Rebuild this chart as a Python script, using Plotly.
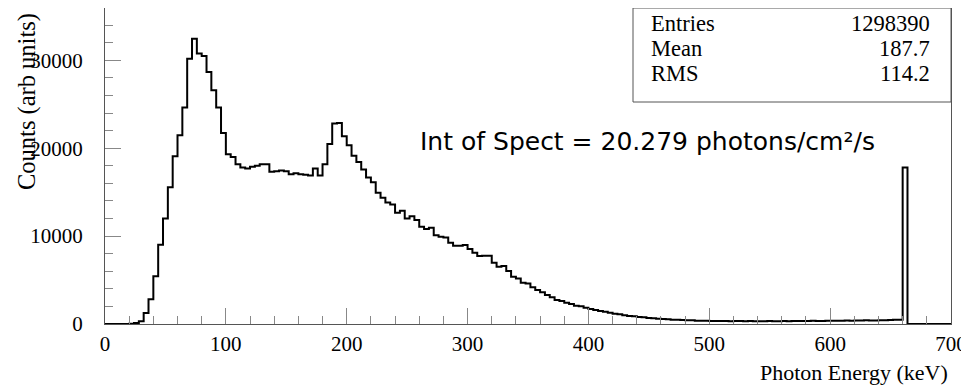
import numpy as np
import plotly.graph_objects as go

# ---- data ----
bin_width_kev = 4
counts = [
    0, 0, 0, 0, 0, 30, 120, 300, 1250, 2820,                      # 0-40
    5420, 9020, 12010, 15570, 19090, 21480, 24620, 30190, 32460, 30760,   # 40-80
    30490, 28670, 26590, 24620, 21740, 19320, 19010, 18180, 17800, 17690,  # 80-120
    17880, 17990, 18180, 18180, 17310, 17390, 17460, 17390, 17050, 17160,  # 120-160
    17050, 16970, 16890, 17690, 16890, 18180, 20490, 22800, 22880, 21360,  # 160-200
    20340, 19130, 18440, 17580, 16670, 16130, 14920, 14350, 13830, 13600,  # 200-240
    12650, 12880, 12010, 12270, 11820, 11060, 10800, 10940, 10110, 9920,   # 240-280
    9850, 9240, 8900, 8900, 8980, 8520, 8100, 7730, 7770, 7770,            # 280-320
    6970, 6520, 6590, 6020, 5380, 5190, 4700, 4620, 4170, 3860,            # 320-360
    3600, 3300, 3030, 2730, 2610, 2420, 2270, 2080, 2010, 1850,            # 360-400
    1700, 1590, 1480, 1400, 1290, 1170, 1100, 990, 910, 870,               # 400-440
    800, 760, 680, 650, 600, 570, 530, 490, 490, 450,                      # 440-480
    420, 420, 380, 380, 360, 340, 330, 350, 330, 320,                      # 480-520
    340, 330, 310, 330, 320, 300, 320, 330, 310, 320,                      # 520-560
    330, 320, 340, 330, 350, 340, 360, 350, 340, 370,                      # 560-600
    360, 380, 370, 390, 380, 400, 390, 420, 410, 400,                      # 600-640
    430, 420, 450, 470, 480, 17800, 0, 0, 0, 0,                            # 640-680
    0, 0, 0, 0, 0,                                                         # 680-700
]
x_tick_vals = [0, 100, 200, 300, 400, 500, 600, 700]
y_tick_vals = [0, 10000, 20000, 30000]
stats_labels = ["Entries", "Mean", "RMS"]
stats_values = ["1298390", "187.7", "114.2"]
x_title = "Photon Energy (keV)"
y_title = "Counts (arb units)"
int_text = "Int of Spect = 20.279 photons/cm²/s"

# ---- geometry (page is offset by the 8px body margin) ----
OFF = 8
PAGE_W, PAGE_H = 969, 386
W, H = PAGE_W - OFF, PAGE_H - OFF
ML, MR, MT, MB = 105 - OFF, 18, 0, 62
PW, PH = W - ML - MR, H - MT - MB


def px(xp):  # page pixel x -> paper
    return (xp - OFF - ML) / PW


def py(yp):  # page pixel y -> paper
    return (H - MB - (yp - OFF)) / PH


edges = np.arange(len(counts) + 1) * bin_width_kev
yvals = list(counts) + [counts[-1]]

fig = go.Figure()
fig.add_trace(go.Scatter(
    x=edges, y=yvals, mode="lines", line=dict(shape="hv", color="black", width=2),
    hoverinfo="skip", showlegend=False,
))

serif = "Liberation Serif"
axis_common = dict(
    showgrid=False, zeroline=False, showline=True, linecolor="#555", linewidth=1,
    mirror=True, ticks="inside", tickcolor="#888", tickwidth=1, ticklen=16,
    tickfont=dict(family=serif, size=21, color="black"),
)
fig.update_xaxes(
    range=[0, 700], tickvals=x_tick_vals, ticktext=[str(v) for v in x_tick_vals],
    minor=dict(ticks="inside", ticklen=8, dtick=20, tick0=0, tickcolor="#888", showgrid=False),
    ticklabelstandoff=1, **axis_common,
)
fig.update_yaxes(
    range=[0, 35950], tickvals=y_tick_vals, ticktext=[str(v) for v in y_tick_vals],
    minor=dict(ticks="inside", ticklen=8, dtick=2000, tick0=0, tickcolor="#888", showgrid=False),
    ticklabelstandoff=17, **axis_common,
)

annotations = []
row_y = [23.7, 48.3, 73.3]
for lab, val, ry in zip(stats_labels, stats_values, row_y):
    annotations.append(dict(x=px(649), y=py(ry), xref="paper", yref="paper", text=lab,
                            showarrow=False, xanchor="left", yanchor="middle",
                            font=dict(family=serif, size=22.5, color="black")))
    annotations.append(dict(x=px(932), y=py(ry), xref="paper", yref="paper", text=val,
                            showarrow=False, xanchor="right", yanchor="middle",
                            font=dict(family=serif, size=22.5, color="black")))
annotations.append(dict(x=px(950), y=py(372), xref="paper", yref="paper", text=x_title,
                        showarrow=False, xanchor="right", yanchor="middle",
                        font=dict(family=serif, size=22, color="black")))
annotations.append(dict(x=px(27), y=py(102), xref="paper", yref="paper", text=y_title,
                        showarrow=False, xanchor="center", yanchor="middle", textangle=-90,
                        font=dict(family=serif, size=24.5, color="black")))
annotations.append(dict(x=px(647.5), y=py(141), xref="paper", yref="paper", text=int_text,
                        showarrow=False, xanchor="center", yanchor="middle",
                        font=dict(family="DejaVu Sans", size=25, color="black")))

fig.update_layout(
    width=W, height=H, margin=dict(l=ML, r=MR, t=MT, b=MB, pad=0),
    paper_bgcolor="white", plot_bgcolor="white",
    annotations=annotations,
    shapes=[dict(type="rect", xref="paper", yref="paper", x0=px(633), x1=1.0,
                 y0=py(102), y1=1.0, line=dict(color="#555", width=1),
                 fillcolor="white", layer="above")],
)
fig.write_html("out.html")
